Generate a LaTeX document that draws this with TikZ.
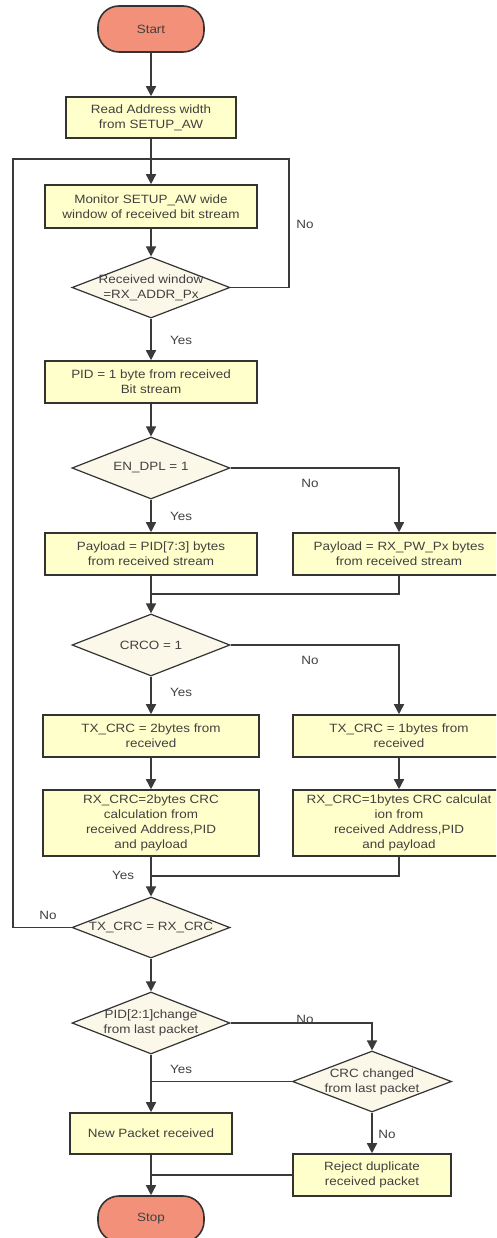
\documentclass[tikz,border=0pt]{standalone}
\usepackage{fontspec}
\setmainfont[FakeStretch=1.12]{Liberation Sans}
\usetikzlibrary{shapes.geometric,arrows.meta}
\definecolor{boxfill}{HTML}{FFFFCC}
\definecolor{diafill}{HTML}{FBF8E9}
\definecolor{termfill}{HTML}{F39079}
\definecolor{bd}{HTML}{333333}
\definecolor{ln}{HTML}{3A3A3A}
\definecolor{txt}{HTML}{404040}
\newcommand{\fsz}{\fontsize{12}{15}\selectfont}
\begin{document}
\begin{tikzpicture}[x=1pt,y=-1pt,
  every node/.style={text=txt, font=\fsz},
  proc/.style={draw=bd, fill=boxfill, line width=1.6pt, minimum width=212pt, minimum height=42pt, align=center, inner sep=0pt},
  term/.style={draw=bd, fill=termfill, line width=1.6pt, rounded corners=21pt, minimum width=106pt, minimum height=46pt, inner sep=0pt},
  dec/.style={draw=bd, fill=diafill, line width=1.2pt, diamond, inner sep=0pt, minimum width=158pt, minimum height=62pt},
  dtext/.style={align=center, inner sep=0pt, text=txt, font=\fsz},
  conn/.style={draw=ln, line width=1.5pt},
  arr/.style={conn, -{Triangle[length=10pt,width=10pt]}},
  lbl/.style={text=txt, inner sep=0pt}
]
\useasboundingbox (0,0) rectangle (496,1238);
\clip (0,0) rectangle (496,1238);
\fill[white] (0,0) rectangle (496,1238);

% nodes
\node[term] (start) at (151,29) {Start};
\node[proc, minimum width=170pt, minimum height=41pt] (read) at (151,117.5) {Read Address width\\from SETUP\_AW};
\node[proc, minimum height=43pt] (mon) at (151,206.5) {Monitor SETUP\_AW wide\\window of received bit stream};
\node[dec, minimum height=61pt, label={[dtext]center:{Received window\\=RX\_ADDR\_Px}}] (d1) at (151,287.5) {};
\node[proc] (pid) at (151,382) {PID = 1 byte from received\\Bit stream};
\node[dec, label={[dtext]center:{EN\_DPL = 1}}] (d2) at (151,468) {};
\node[proc] (pl) at (151,554) {Payload = PID[7:3] bytes\\from received stream};
\node[proc] (pr) at (399,554) {Payload = RX\_PW\_Px bytes\\from received stream};
\node[dec, label={[dtext]center:{CRCO = 1}}] (d3) at (151,645) {};
\node[proc, minimum width=216pt] (txl) at (151,736) {TX\_CRC = 2bytes from\\received};
\node[proc] (txr) at (399,736) {TX\_CRC = 1bytes from\\received};
\node[proc, minimum width=216pt, minimum height=66pt] (rxl) at (151,823) {RX\_CRC=2bytes CRC\\calculation from\\received Address,PID\\and payload};
\node[proc, minimum height=66pt] (rxr) at (399,823) {RX\_CRC=1bytes CRC calculat\\ion from\\received Address,PID\\and payload};
\node[dec, minimum height=61pt, label={[dtext]center:{TX\_CRC = RX\_CRC}}] (d4) at (151,927.5) {};
\node[dec, label={[dtext]center:{PID[2:1]change\\from last packet}}] (d5) at (151,1023) {};
\node[dec, minimum width=159pt, minimum height=61pt, label={[dtext]center:{CRC changed\\from last packet}}] (crc) at (372,1081.5) {};
\node[proc, minimum width=158pt] (rej) at (372,1175) {Reject duplicate\\received packet};
\node[proc, minimum width=162pt, minimum height=41pt] (newp) at (151,1133.5) {New Packet received};
\node[term] (stop) at (151,1219) {Stop};

% junction coordinates
\coordinate (jtop) at (151,159);
\coordinate (loopR) at (289,159);
\coordinate (loopL) at (13,159);
\coordinate (j2) at (151,594);
\coordinate (j3) at (151,876);
\coordinate (j4) at (151,1081.5);
\coordinate (j5) at (151,1175);

% connectors
\draw[arr] (start) -- (read);
\draw[arr] (read) -- (mon);
\draw[arr] (mon) -- (d1);
\draw[conn] (d1.east) -| (loopR) -- (jtop);
\draw[conn] (d4.west) -| (loopL) -- (jtop);
\draw[arr] (d1) -- (pid);
\draw[arr] (pid) -- (d2);
\draw[arr] (d2) -- (pl);
\draw[arr] (d2.east) -| (pr.north);
\draw[arr] (pl) -- (d3);
\draw[conn] (pr.south) |- (j2);
\draw[arr] (d3) -- (txl);
\draw[arr] (d3.east) -| (txr.north);
\draw[arr] (txl) -- (rxl);
\draw[arr] (txr) -- (rxr);
\draw[arr] (rxl) -- (d4);
\draw[conn] (rxr.south) |- (j3);
\draw[arr] (d4) -- (d5);
\draw[arr] (d5.east) -| (crc.north);
\draw[arr] (d5) -- (newp);
\draw[conn] (crc.west) -- (j4);
\draw[arr] (crc) -- (rej);
\draw[arr] (newp) -- (stop);
\draw[conn] (rej.west) -- (j5);

% labels
\node[lbl] (l1) at (305,224) {No};
\node[lbl] (l2) at (181,340) {Yes};
\node[lbl] (l3) at (310,483) {No};
\node[lbl] (l4) at (181,516) {Yes};
\node[lbl] (l5) at (310,660) {No};
\node[lbl] (l6) at (181,692) {Yes};
\node[lbl] (l7) at (123,875) {Yes};
\node[lbl] (l8) at (48,915) {No};
\node[lbl] (l9) at (305,1019) {No};
\node[lbl] (l10) at (181,1069) {Yes};
\node[lbl] (l11) at (387,1134) {No};
\end{tikzpicture}
\end{document}
